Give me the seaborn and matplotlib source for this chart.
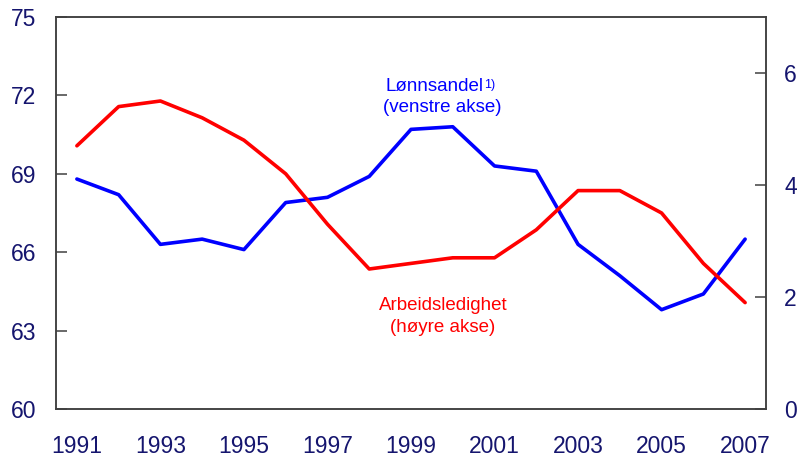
import matplotlib
matplotlib.use('Agg')
import matplotlib.pyplot as plt
import seaborn as sns
import pandas as pd
import numpy as np

years = list(range(1991, 2008))
# Lønnsandel, venstre akse (prosent)
wage_share = [68.8, 68.2, 66.3, 66.5, 66.1, 67.9, 68.1, 68.9, 70.7, 70.8,
              69.3, 69.1, 66.3, 65.1, 63.8, 64.4, 66.5]
# Arbeidsledighet, høyre akse (prosent)
unemployment = [4.7, 5.4, 5.5, 5.2, 4.8, 4.2, 3.3, 2.5, 2.6, 2.7,
                2.7, 3.2, 3.9, 3.9, 3.5, 2.6, 1.9]

left_ticks = [60, 63, 66, 69, 72, 75]
right_ticks = [0, 2, 4, 6]
year_labels = list(range(1991, 2008, 2))

df = pd.DataFrame({'År': years, 'Lønnsandel': wage_share,
                   'Arbeidsledighet': unemployment})

sns.set_style('white')
plt.rcParams['font.family'] = ['Liberation Sans', 'DejaVu Sans']

navy = '#15156e'
spine_col = '#404040'

fig = plt.figure(figsize=(8.02, 4.61), dpi=100)
ax = fig.add_axes([56 / 802, 1 - 409 / 461, 710 / 802, 392 / 461])
ax2 = ax.twinx()

sns.lineplot(data=df, x='År', y='Lønnsandel', ax=ax, color='#0000ff', lw=2.6)
sns.lineplot(data=df, x='År', y='Arbeidsledighet', ax=ax2, color='#ff0000', lw=2.6)

ax.set_xlim(1990.5, 2007.5)
ax.set_ylim(60, 75)
ax2.set_ylim(0, 7)

ax.set_xticks(year_labels)
ax.set_xticklabels([str(y) for y in year_labels])
ax.set_xticks(np.arange(1992.5, 2007, 2), minor=True)
ax.tick_params(axis='x', which='major', length=0, pad=19, labelsize=16.5, labelcolor=navy)
ax.tick_params(axis='x', which='minor', length=8, width=1.1, direction='in', color=spine_col)

ax.set_yticks(left_ticks)
ax.tick_params(axis='y', length=8, width=1.1, direction='in', pad=14,
               labelsize=16.5, labelcolor=navy, color=spine_col, left=True)
ax2.set_yticks(right_ticks)
ax2.tick_params(axis='y', length=8, width=1.1, direction='in', pad=13,
                labelsize=16.5, labelcolor=navy, color=spine_col, right=True)

for a in (ax, ax2):
    a.set_xlabel('')
    a.set_ylabel('')
    for s in a.spines.values():
        s.set_visible(True)
        s.set_color(spine_col)
        s.set_linewidth(1.1)

t1 = ax.text(0.533, 0.823, 'Lønnsandel', transform=ax.transAxes, ha='center',
             va='center', fontsize=13.5, color='#0000ff')
ax.annotate('1)', xy=(1.0, 0.92), xycoords=t1, fontsize=9, color='#0000ff',
            ha='left', va='top', xytext=(0.5, 0), textcoords='offset points')
ax.text(0.544, 0.768, '(venstre akse)', transform=ax.transAxes, ha='center',
        va='center', fontsize=13.5, color='#0000ff')

ax.text(0.545, 0.265, 'Arbeidsledighet', transform=ax.transAxes, ha='center',
        va='center', fontsize=13.5, color='#ff0000')
ax.text(0.545, 0.207, '(høyre akse)', transform=ax.transAxes, ha='center',
        va='center', fontsize=13.5, color='#ff0000')

fig.savefig('out.png', dpi=100)
